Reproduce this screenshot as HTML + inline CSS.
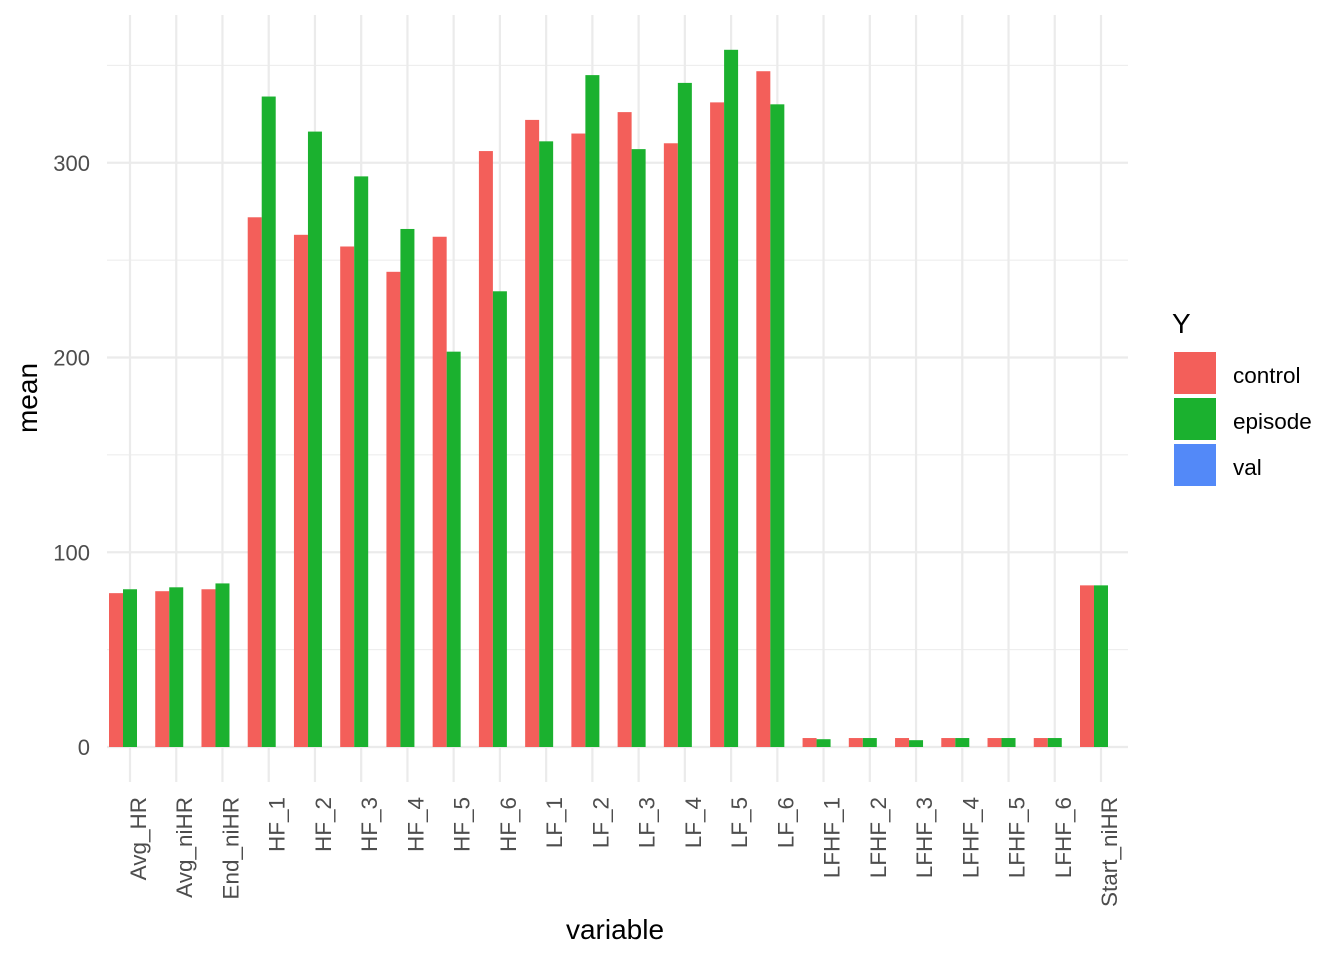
<!DOCTYPE html>
<html><head><meta charset="utf-8"><style>
body{margin:0;background:#fff;}
svg text{font-family:"Liberation Sans",Arial,sans-serif;}
</style></head><body>
<svg id="chart" width="1344" height="960" xmlns="http://www.w3.org/2000/svg">
<g id="grid"></g>
<g id="bars"></g>
<g id="axes"></g>
<text x="615" y="939" font-size="28" text-anchor="middle" fill="#000">variable</text>
<text transform="translate(37,398) rotate(-90)" font-size="28" text-anchor="middle" fill="#000">mean</text>
<g>
<text x="1172" y="333" font-size="28" fill="#000">Y</text>
<g><rect x="1174" y="352" width="42" height="42" fill="#F35F5A"/><text x="1233" y="383" font-size="22.5" fill="#000">control</text></g>
<g><rect x="1174" y="398" width="42" height="42" fill="#1BB12F"/><text x="1233" y="429" font-size="22.5" fill="#000">episode</text></g>
<g><rect x="1174" y="444" width="42" height="42" fill="#5389F8"/><text x="1233" y="475" font-size="22.5" fill="#000">val</text></g>
</g>
</svg>
<script>
const categories=["Avg_HR","Avg_niHR","End_niHR","HF_1","HF_2","HF_3","HF_4","HF_5","HF_6","LF_1","LF_2","LF_3","LF_4","LF_5","LF_6","LFHF_1","LFHF_2","LFHF_3","LFHF_4","LFHF_5","LFHF_6","Start_niHR"];
const controlValues=[79,80,81,272,263,257,244,262,306,322,315,326,310,331,347,4.6,4.6,4.6,4.6,4.6,4.6,83];
const episodeValues=[81,82,84,334,316,293,266,203,234,311,345,307,341,358,330,4,4.6,3.5,4.6,4.6,4.6,83];
const yTicks=[0,100,200,300];
const yMinor=[50,150,250,350];
const NS="http://www.w3.org/2000/svg";
const x0=130,step=(1101-130)/21,barW=14;
function xs(i){return x0+i*step;}
function ys(v){return 747-v*1.9475;}
function mk(tag,attrs,parent){const e=document.createElementNS(NS,tag);for(const k in attrs)e.setAttribute(k,attrs[k]);parent.appendChild(e);return e;}
const grid=document.getElementById('grid'),bars=document.getElementById('bars'),axes=document.getElementById('axes');
yMinor.forEach(v=>{const l=mk('line',{x1:107,x2:1128,y1:ys(v),y2:ys(v),stroke:'#ebebeb','stroke-width':1.1},grid);

});
yTicks.forEach(v=>{const l=mk('line',{x1:107,x2:1128,y1:ys(v),y2:ys(v),stroke:'#ebebeb','stroke-width':2.2},grid);


const t=mk('text',{x:90,y:ys(v)+8,'font-size':22,'text-anchor':'end',fill:'#4d4d4d'},axes);t.textContent=v;

});
categories.forEach((c,i)=>{const x=xs(i);
const l=mk('line',{x1:x,x2:x,y1:15,y2:782,stroke:'#ebebeb','stroke-width':2.2},grid);


const r=mk('rect',{x:x-21,y:ys(controlValues[i]),width:barW,height:ys(0)-ys(controlValues[i]),fill:'#F35F5A'},bars);


const g=mk('rect',{x:x-7,y:ys(episodeValues[i]),width:barW,height:ys(0)-ys(episodeValues[i]),fill:'#1BB12F'},bars);


const t=mk('text',{transform:`translate(${x+16},797) rotate(-90)`,'font-size':22.5,'text-anchor':'end',fill:'#4d4d4d'},axes);t.textContent=c;

});
</script>
</body></html>
